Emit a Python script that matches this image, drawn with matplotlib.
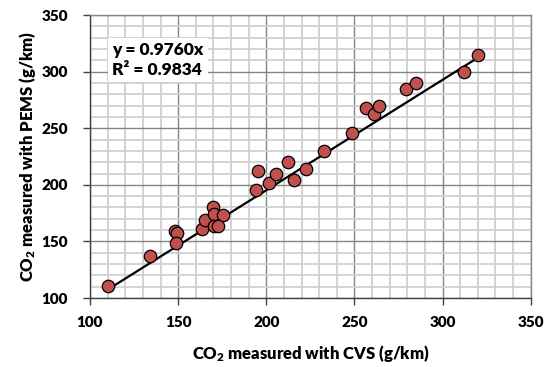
import matplotlib
matplotlib.use("Agg")
import matplotlib.pyplot as plt
from matplotlib.ticker import MultipleLocator

plt.rcParams['font.family'] = ['Lato', 'DejaVu Sans']
plt.rcParams['font.weight'] = 'heavy'
plt.rcParams['mathtext.fontset'] = 'custom'
plt.rcParams['mathtext.rm'] = 'Lato:heavy'
plt.rcParams['mathtext.it'] = 'Lato:heavy'
plt.rcParams['mathtext.bf'] = 'Lato:heavy'

cvs = [110.5, 134, 148, 149.5, 149, 163.5, 165, 170, 170.3, 175.5, 170.5, 172.5,
       194, 195.5, 201.5, 205.5, 212.5, 215.5, 222.5, 233, 248.5, 256.5, 261, 264,
       279, 285, 312, 320]
pems = [111, 137, 159, 157, 149, 161, 168.5, 180, 174.5, 173.5, 164, 164,
        195, 212, 201.5, 210, 220, 204, 214, 230, 246, 268, 263, 270,
        285, 290, 300, 315]
slope = 0.9760
r2 = 0.9834
xlabel = "CO$_2$ measured with CVS (g/km)"
ylabel = "CO$_2$ measured with PEMS (g/km)"

fig = plt.figure(figsize=(5.5, 3.67), dpi=100)
ax = fig.add_axes([0.1636, 0.188, 0.8014, 0.771])

ax.set_xlim(100, 350)
ax.set_ylim(100, 350)
ax.xaxis.set_major_locator(MultipleLocator(50))
ax.yaxis.set_major_locator(MultipleLocator(50))
ax.xaxis.set_minor_locator(MultipleLocator(10))
ax.yaxis.set_minor_locator(MultipleLocator(10))
ax.grid(which='minor', color='#d0d0d0', lw=1.3, zorder=0)
ax.grid(which='major', color='#858585', lw=1.0, zorder=0)
ax.set_axisbelow(True)
ax.tick_params(which='minor', length=0)
ax.tick_params(which='major', direction='out', length=5, width=1, color='#404040',
               labelsize=11)
ax.tick_params(axis='x', pad=8)
ax.tick_params(axis='y', pad=11)
for lab in ax.get_xticklabels() + ax.get_yticklabels():
    lab.set_fontweight('heavy')
for s in ['left', 'bottom']:
    ax.spines[s].set_color('#404040')
    ax.spines[s].set_linewidth(1.0)
for s in ['top', 'right']:
    ax.spines[s].set_color('#858585')
    ax.spines[s].set_linewidth(1.0)

xs = [min(cvs), max(cvs)]
ax.plot(xs, [slope * v for v in xs], color='black', lw=1.6, zorder=2)
ax.scatter(cvs, pems, s=80, facecolor='#C0504D', edgecolor='black', linewidth=0.9, zorder=3)

ax.text(0.05, 0.905, f"y = {slope:.4f}x\nR² = {r2:.4f}", transform=ax.transAxes,
        fontsize=12.5, fontweight='heavy', va='top', ha='left', linespacing=1.3,
        bbox=dict(facecolor='white', edgecolor='none', pad=3))

ax.set_xlabel(xlabel, fontsize=12, fontweight='heavy', labelpad=10)
ax.set_ylabel(ylabel, fontsize=12, fontweight='heavy', labelpad=2)

fig.savefig("out.png", dpi=100)
